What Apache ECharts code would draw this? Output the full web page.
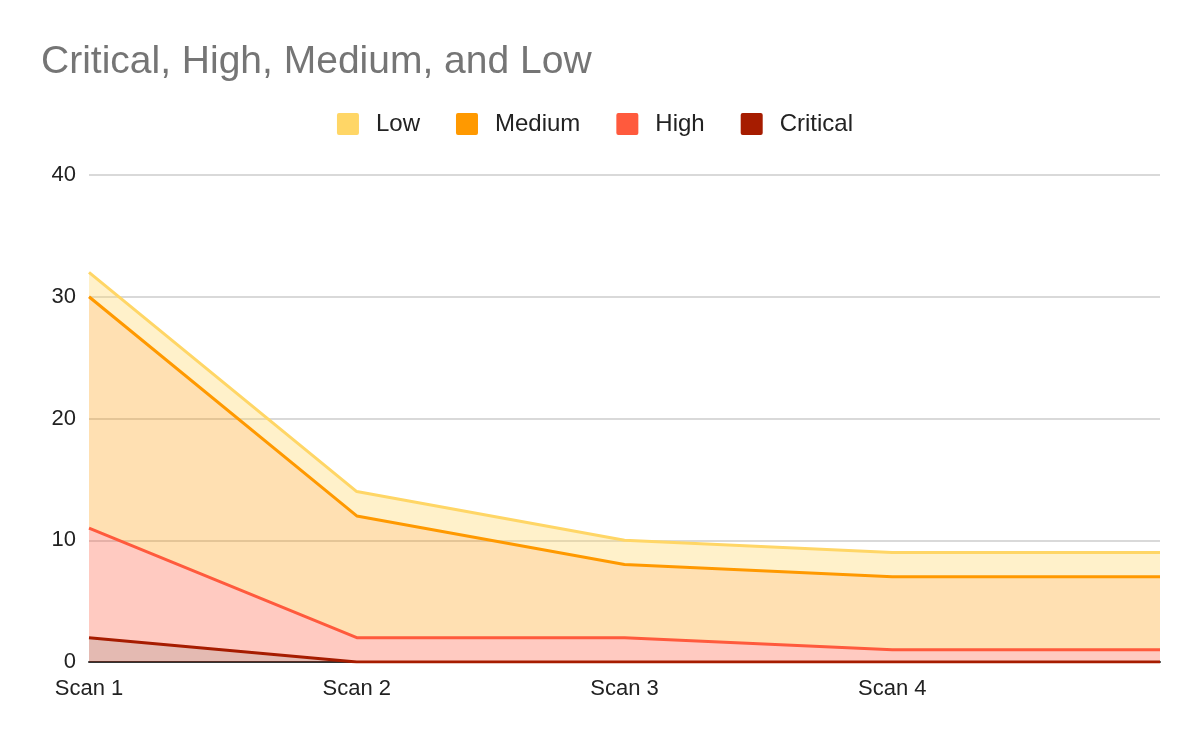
<!DOCTYPE html>
<html>
<head>
<meta charset="utf-8">
<script src="https://cdn.jsdelivr.net/npm/echarts@6/dist/echarts.min.js"></script>
<style>
  html, body { margin: 0; padding: 0; background: #fff; }
  #chart { width: 1190px; height: 739px; }
</style>
</head>
<body>
<div id="chart"></div>
<script>
// scans on the x axis (last point has no label in the original)
const scans = ['Scan 1', 'Scan 2', 'Scan 3', 'Scan 4', ''];

// counts per severity, stacked bottom to top
const critical = [2, 0, 0, 0, 0];
const high = [9, 2, 2, 1, 1];
const medium = [19, 10, 6, 6, 6];
const low = [2, 2, 2, 2, 2];

const legendOrder = ['Low', 'Medium', 'High', 'Critical'];

const chartDom = document.getElementById('chart');
const myChart = echarts.init(chartDom);

function areaSeries(name, data, color, opacity) {
  return {
    name: name,
    type: 'line',
    stack: 'total',
    data: data,
    symbol: 'none',
    color: color,
    lineStyle: { width: 3, color: color },
    areaStyle: { color: color, opacity: opacity },
    emphasis: { disabled: true }
  };
}

const option = {
  animation: false,
  backgroundColor: '#fff',
  title: {
    text: 'Critical, High, Medium, and Low',
    left: 36,
    top: 38,
    textStyle: {
      fontFamily: 'Liberation Sans, Arial, sans-serif',
      fontSize: 39,
      fontWeight: 'normal',
      color: '#757575'
    }
  },
  legend: {
    data: legendOrder,
    top: 107,
    left: 'center',
    itemWidth: 22,
    itemHeight: 22,
    itemGap: 36,
    icon: 'path://M2,0 L20,0 Q22,0 22,2 L22,20 Q22,22 20,22 L2,22 Q0,22 0,20 L0,2 Q0,0 2,0 Z',
    textStyle: {
      fontFamily: 'Liberation Sans, Arial, sans-serif',
      fontSize: 24,
      color: '#222',
      padding: [0, 0, 0, 12]
    }
  },
  grid: {
    left: 89,
    right: 30,
    top: 175,
    bottom: 77
  },
  xAxis: {
    type: 'category',
    data: scans,
    boundaryGap: false,
    axisTick: { show: false },
    axisLine: { lineStyle: { color: '#333', width: 2 } },
    axisLabel: {
      margin: 16,
      fontFamily: 'Liberation Sans, Arial, sans-serif',
      fontSize: 22,
      color: '#222'
    }
  },
  yAxis: {
    type: 'value',
    min: 0,
    max: 40,
    interval: 10,
    axisLine: { show: false },
    axisTick: { show: false },
    splitLine: { lineStyle: { color: '#cccccc', width: 1.5 } },
    axisLabel: {
      margin: 13,
      fontFamily: 'Liberation Sans, Arial, sans-serif',
      fontSize: 22,
      color: '#222'
    }
  },
  series: [
    areaSeries('Critical', critical, '#a61c00', 0.3),
    areaSeries('High', high, '#ff5a3d', 0.32),
    areaSeries('Medium', medium, '#ff9900', 0.3),
    areaSeries('Low', low, '#ffd666', 0.35)
  ]
};

option && myChart.setOption(option);
</script>
</body>
</html>
